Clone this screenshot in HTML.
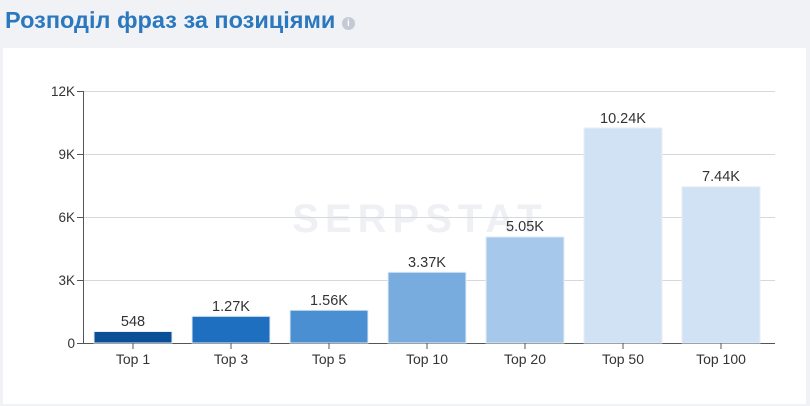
<!DOCTYPE html>
<html><head><meta charset="utf-8"><style>
body{margin:0;width:810px;height:406px;background:#f0f2f6;overflow:hidden;font-family:"Liberation Sans",sans-serif}
.t{position:absolute;left:5px;top:7px;font-size:23.5px;font-weight:bold;color:#2b78bf}
.card{position:absolute;left:3px;top:48px;width:803px;height:356px;background:#fff}
</style></head><body>
<div class="t">Розподіл фраз за позиціями <span style="display:inline-block;width:13px;height:13px;border-radius:50%;background:#c3cad4;color:#fff;font-size:10px;text-align:center;line-height:13px;vertical-align:2px">i</span></div>
<div class="card"></div>
<svg width="810" height="406" style="position:absolute;left:0;top:0" font-family="Liberation Sans, sans-serif">
<text x="420" y="232" font-size="40" font-weight="bold" fill="#eef0f4" text-anchor="middle" letter-spacing="6">SERPSTAT</text>
<g stroke="#d5d8dc" stroke-width="1">
<line x1="84" x2="775" y1="91.5" y2="91.5"/><line x1="84" x2="775" y1="154.5" y2="154.5"/>
<line x1="84" x2="775" y1="217.5" y2="217.5"/><line x1="84" x2="775" y1="280.5" y2="280.5"/>
</g>
<g stroke="#555" stroke-width="1">
<line x1="83.5" x2="83.5" y1="91" y2="343"/><line x1="83" x2="775" y1="343.5" y2="343.5"/>
<line x1="77" x2="83" y1="91.5" y2="91.5"/><line x1="77" x2="83" y1="154.5" y2="154.5"/>
<line x1="77" x2="83" y1="217.5" y2="217.5"/><line x1="77" x2="83" y1="280.5" y2="280.5"/>
<line x1="77" x2="83" y1="343.5" y2="343.5"/>
</g>
<g font-size="13.5" fill="#333" text-anchor="end">
<text x="75" y="96">12K</text><text x="75" y="159">9K</text><text x="75" y="222">6K</text><text x="75" y="285">3K</text><text x="75" y="348">0</text>
</g>
<g stroke="#e6eef8" stroke-width="1">
<rect x="94" y="331.5" width="78" height="11.5" fill="#0b4f97"/>
<rect x="192" y="316.3" width="78" height="26.7" fill="#1f6fc0"/>
<rect x="290" y="310.2" width="78" height="32.8" fill="#4a8fd2"/>
<rect x="388" y="272.2" width="78" height="70.8" fill="#78acdf"/>
<rect x="486" y="236.9" width="78" height="106.1" fill="#a6c8ea"/>
<rect x="584" y="128" width="78" height="215" fill="#d0e2f4"/>
<rect x="682" y="186.8" width="78" height="156.2" fill="#d0e2f4"/>
</g>
<g stroke="#555"><line x1="133" x2="133" y1="343" y2="349"/><line x1="231" x2="231" y1="343" y2="349"/><line x1="329" x2="329" y1="343" y2="349"/><line x1="427" x2="427" y1="343" y2="349"/><line x1="525" x2="525" y1="343" y2="349"/><line x1="623" x2="623" y1="343" y2="349"/><line x1="721" x2="721" y1="343" y2="349"/></g>
<g font-size="14" fill="#333" text-anchor="middle">
<text x="133" y="364">Top 1</text><text x="231" y="364">Top 3</text><text x="329" y="364">Top 5</text><text x="427" y="364">Top 10</text><text x="525" y="364">Top 20</text><text x="623" y="364">Top 50</text><text x="721" y="364">Top 100</text>
</g>
<g font-size="14.5" fill="#333" text-anchor="middle">
<text x="133" y="326">548</text><text x="231" y="311">1.27K</text><text x="329" y="305">1.56K</text><text x="427" y="267">3.37K</text><text x="525" y="231">5.05K</text><text x="623" y="123">10.24K</text><text x="721" y="181">7.44K</text>
</g>
</svg>
</body></html>
